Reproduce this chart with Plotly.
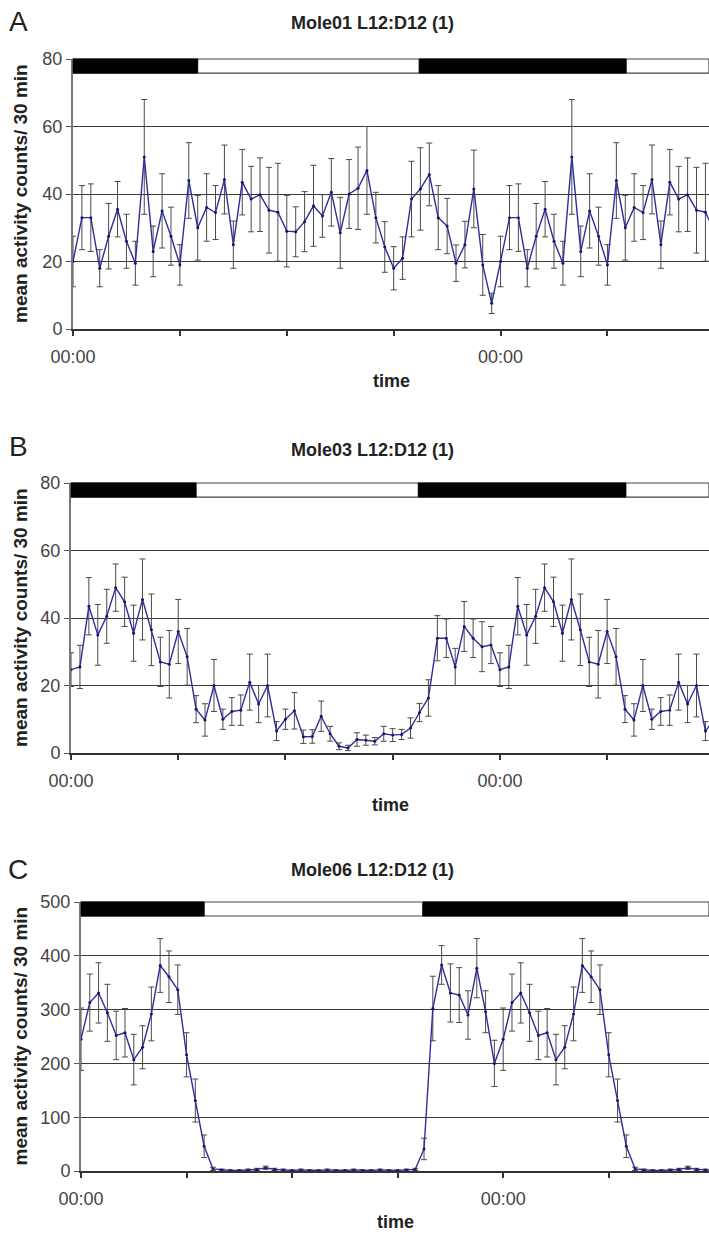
import plotly.graph_objects as go

# ---------------- data (30-min bins, one 24 h day; chart is double-plotted) -------------
bin_hours = 0.5
A_mean = [20, 33, 33, 18, 27.5, 35.5, 26, 19.5, 51, 23, 35, 27.5, 19, 44, 30, 36,
          34.5, 44.3, 25, 43.5, 38.5, 39.8, 35.2, 34.6, 29, 28.8, 31.8, 36.5, 33.5, 40.5, 28.5, 40,
          41.7, 47, 33, 24.3, 18, 21, 38.5, 41.5, 45.8, 33, 30.5, 19.5, 25, 41.5, 19, 7.6]
A_err = [7.5, 9.5, 10, 5.5, 9.7, 8.2, 8, 6.5, 17, 7.5, 11, 8.6, 6, 11.2, 9.6, 10,
         8, 10.2, 7, 9.7, 9.7, 10.9, 12.7, 14.5, 10.6, 7.4, 8.9, 12, 6.3, 10, 10.5, 10.2,
         12.2, 13, 7.5, 7.5, 6.4, 6.3, 11.2, 12.2, 9.3, 9.5, 8.2, 5.4, 6.9, 11.5, 9, 3]

B_mean = [24.7, 25.5, 43.5, 35, 40.5, 49, 44.8, 35.5, 45.5, 36.5, 27, 26.3, 36, 28.5, 13, 9.8,
          20, 10, 12.3, 12.7, 21, 14.5, 20, 6.5, 10, 12.5, 4.8, 4.9, 10.9, 5.7, 2, 1.5,
          4, 3.8, 3.5, 5.7, 5.3, 5.5, 7.4, 12, 16.3, 34, 34, 25.5, 37.5, 34, 31.5, 32]
B_err = [5, 6.4, 8.5, 9, 8, 7, 7.3, 8.3, 12, 10.6, 7.3, 10, 9.5, 8.4, 4, 4.8,
         7.7, 3, 4.1, 4.5, 8.3, 5.5, 9.3, 2.8, 3, 5.4, 2, 2, 4.5, 2.2, 1, 0.8,
         2, 1.5, 1.1, 2.2, 1.9, 1.5, 3, 2.7, 5.4, 6.7, 5.7, 5.5, 7.4, 5.7, 7.4, 5.5]

C_mean = [245, 313, 331, 294, 252, 257, 207, 230, 292, 382, 361, 337, 216, 131, 46, 4,
          2, 1, 1, 2, 3, 6, 3, 2, 1, 2, 1, 1, 2, 1, 1, 2,
          1, 1, 2, 1, 1, 2, 3, 41, 302, 383, 331, 327, 290, 377, 296, 200]
C_err = [58, 53, 56, 53, 45, 45, 47, 40, 50, 50, 48, 46, 41, 40, 21, 3,
         1.5, 1, 1, 1.5, 2, 3, 2, 1.5, 1, 1.5, 1, 1, 1.5, 1, 1, 1.5,
         1, 1, 1.5, 1, 1, 1.5, 2, 20, 60, 36, 54, 51, 45, 55, 39, 43]

days_plotted = 2
tick_hours = [0, 6, 12, 18, 24, 30, 36]
tick_text = ["00:00", "", "", "", "00:00", "", ""]
x_max_hours = 35.7
dark_start = [0, 19.43]
dark_end = [7.0, 31.05]

panel_letters = ["A", "B", "C"]
panel_titles = ["Mole01 L12:D12 (1)", "Mole03 L12:D12 (1)", "Mole06 L12:D12 (1)"]
y_max = [80, 80, 500]
y_step = [20, 20, 100]
y_title = "mean activity counts/ 30 min"
x_title = "time"

# ---------------- layout geometry (pixels) ----------------
W, H = 709, 1234
geom = [
    dict(left=73, top=59, bottom=329, letter_y=22, title_y=23, time_y=381),
    dict(left=71, top=483, bottom=753, letter_y=446, title_y=450, time_y=805),
    dict(left=81, top=902, bottom=1171, letter_y=869, title_y=870, time_y=1222),
]

def fx(p):
    return p / W

def fy(p):
    return 1 - p / H

FONT = "Liberation Sans, Arial, sans-serif"
series = [(A_mean, A_err), (B_mean, B_err), (C_mean, C_err)]

fig = go.Figure()
layout = dict(
    width=W, height=H, margin=dict(l=0, r=0, t=0, b=0, pad=0, autoexpand=False),
    paper_bgcolor="white", plot_bgcolor="white", showlegend=False,
    font=dict(family=FONT, color="#222"),
)
shapes = []
annotations = []

for k in range(3):
    n = k + 1
    xa = "x" if n == 1 else f"x{n}"
    ya = "y" if n == 1 else f"y{n}"
    g = geom[k]
    mean, err = series[k]
    ys = mean * days_plotted
    es = err * days_plotted
    xs = [i * bin_hours for i in range(len(ys))]

    fig.add_trace(go.Scatter(
        x=xs, y=ys, xaxis=xa, yaxis=ya, mode="lines+markers",
        line=dict(color="#2e2e9c", width=1.4),
        marker=dict(color="#161668", size=3),
        error_y=dict(type="data", array=es, visible=True, color="#4a4a4a",
                     thickness=1, width=3),
        cliponaxis=True,
    ))

    layout["xaxis" if n == 1 else f"xaxis{n}"] = dict(
        domain=[fx(g["left"]), 1.0], anchor=ya, range=[0, x_max_hours],
        automargin=False,
        tickmode="array", tickvals=tick_hours, ticktext=tick_text,
        ticks="outside", ticklen=5, tickwidth=1.5, tickcolor="#333",
        showline=True, linecolor="#333", linewidth=2,
        showgrid=False, zeroline=False,
        tickfont=dict(family=FONT, size=18, color="#444"),
        ticklabelstandoff=5,
    )
    layout["yaxis" if n == 1 else f"yaxis{n}"] = dict(
        domain=[fy(g["bottom"]), fy(g["top"])], anchor=xa,
        range=[0, y_max[k]], dtick=y_step[k], tick0=0,
        automargin=False,
        ticks="outside", ticklen=5, tickcolor="#555",
        showline=True, linecolor="#777", linewidth=2,
        showgrid=True, gridcolor="#3a3a3a", gridwidth=1, zeroline=False,
        tickfont=dict(family=FONT, size=18, color="#444"),
    )

    # light/dark bar at the top of each panel
    shapes.append(dict(type="rect", xref=f"{xa} domain", yref=f"{ya} domain",
                       x0=0, x1=1, y0=0.948, y1=1.0, fillcolor="white",
                       line=dict(color="#444", width=1.2), layer="above"))
    for s, e in zip(dark_start, dark_end):
        shapes.append(dict(type="rect", xref=xa, yref=f"{ya} domain",
                           x0=s, x1=e, y0=0.948, y1=1.0, fillcolor="black",
                           line=dict(color="black", width=1), layer="above"))

    annotations.append(dict(text=panel_letters[k], x=fx(18), y=fy(g["letter_y"]),
                            xref="paper", yref="paper", showarrow=False,
                            xanchor="center", yanchor="middle",
                            font=dict(family=FONT, size=28, color="#222")))
    annotations.append(dict(text=f"<b>{panel_titles[k]}</b>", x=fx(372), y=fy(g["title_y"]),
                            xref="paper", yref="paper", showarrow=False,
                            xanchor="center", yanchor="middle",
                            font=dict(family=FONT, size=18, color="#222")))
    annotations.append(dict(text=f"<b>{y_title}</b>", x=fx(20),
                            y=fy((g["top"] + g["bottom"]) / 2),
                            xref="paper", yref="paper", showarrow=False, textangle=-90,
                            xanchor="center", yanchor="middle",
                            font=dict(family=FONT, size=19, color="#222")))
    annotations.append(dict(text=f"<b>{x_title}</b>", x=fx((g["left"] + W) / 2),
                            y=fy(g["time_y"]),
                            xref="paper", yref="paper", showarrow=False,
                            xanchor="center", yanchor="middle",
                            font=dict(family=FONT, size=18, color="#222")))

layout["shapes"] = shapes
layout["annotations"] = annotations
fig.update_layout(**layout)
fig.write_html(
    "out.html",
    config={"displayModeBar": False},
    post_script="document.body.style.margin='0px'; document.body.style.overflow='hidden';",
)
